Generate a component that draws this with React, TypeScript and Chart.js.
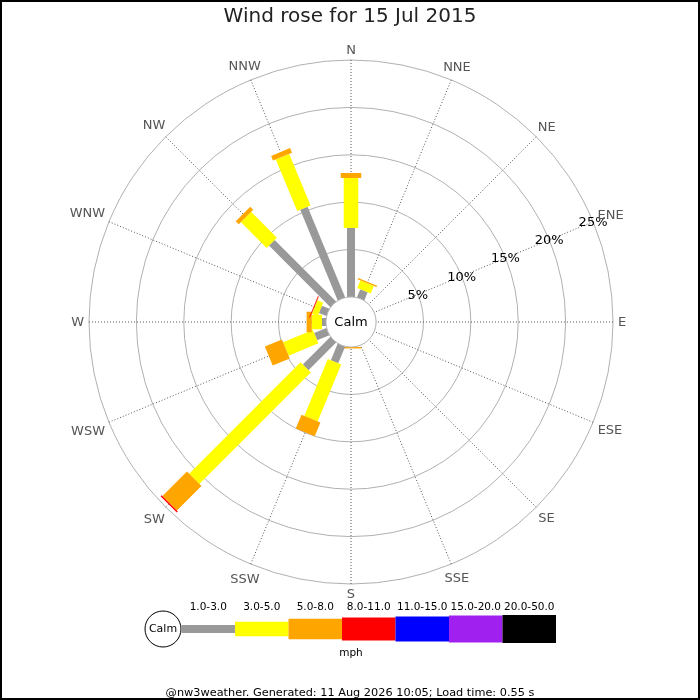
import { useEffect, useRef } from 'react';
import { Chart, registerables } from 'chart.js';

Chart.register(...registerables);

const FONT = "'DejaVu Sans', sans-serif";

const directions = ['N', 'NNE', 'NE', 'ENE', 'E', 'ESE', 'SE', 'SSE', 'S', 'SSW', 'SW', 'WSW', 'W', 'WNW', 'NW', 'NNW'];
const speedBins = ['1.0-3.0', '3.0-5.0', '5.0-8.0', '8.0-11.0', '11.0-15.0', '15.0-20.0', '20.0-50.0'];
const binColors = ['#999999', '#ffff00', '#ffa500', '#ff0000', '#0000ff', '#a020f0', '#000000'];
const binWidths = [8, 14.5, 20.5, 23, 25, 27, 28];

// % of the day per direction, one array per speed bin (mph)
const speed1to3 = [7.28, 0.93, 0, 0, 0, 0, 0, 0, 0, 1.9, 4.13, 1.4, 0.42, 0.85, 9.18, 10.34];
const speed3to5 = [5.27, 0.87, 0, 0, 0, 0, 0, 0, 0, 6.5, 16.62, 3.4, 1.08, 0.65, 3.85, 5.9];
const speed5to8 = [0.53, 0.15, 0, 0, 0, 0, 0, 0, 0.15, 1.57, 3.66, 1.95, 0.54, 0.05, 0.44, 0.53];
const speed8to11 = [0, 0, 0, 0, 0, 0, 0, 0, 0, 0, 0.15, 0, 0, 0.08, 0, 0];
const speed11to15 = [0, 0, 0, 0, 0, 0, 0, 0, 0, 0, 0, 0, 0, 0, 0, 0];
const speed15to20 = [0, 0, 0, 0, 0, 0, 0, 0, 0, 0, 0, 0, 0, 0, 0, 0];
const speed20to50 = [0, 0, 0, 0, 0, 0, 0, 0, 0, 0, 0, 0, 0, 0, 0, 0];
const seriesValues = [speed1to3, speed3to5, speed5to8, speed8to11, speed11to15, speed15to20, speed20to50];

const ringValues = [0, 5, 10, 15, 20, 25];
const ringLabels = ['5%', '10%', '15%', '20%', '25%'];

const titleText = 'Wind rose for 15 Jul 2015';
const footerText = '@nw3weather. Generated: 11 Aug 2026 10:05; Load time: 0.55 s';

const roseDecor = {
  id: 'roseDecor',
  afterDatasetsDraw(chart: any) {
    const scale = chart.scales.r;
    const ctx = chart.ctx;
    ctx.save();
    ctx.lineCap = 'butt';

    // stacked bars, one segment per speed bin
    directions.forEach((_, i) => {
      let base = 0;
      chart.data.datasets.forEach((ds: any, b: number) => {
        const v = ds.data[i];
        if (!v) return;
        const p0 = scale.getPointPositionForValue(i, base);
        const p1 = scale.getPointPositionForValue(i, base + v);
        ctx.strokeStyle = binColors[b];
        ctx.lineWidth = binWidths[b];
        ctx.beginPath();
        ctx.moveTo(p0.x, p0.y);
        ctx.lineTo(p1.x, p1.y);
        ctx.stroke();
        base += v;
      });
    });

    // calm circle
    const r0 = scale.getDistanceFromCenterForValue(0);
    ctx.beginPath();
    ctx.arc(scale.xCenter, scale.yCenter, r0, 0, Math.PI * 2);
    ctx.fillStyle = '#ffffff';
    ctx.fill();
    ctx.lineWidth = 1;
    ctx.strokeStyle = '#bbbbbb';
    ctx.stroke();
    ctx.fillStyle = '#000000';
    ctx.font = `13px ${FONT}`;
    ctx.textAlign = 'center';
    ctx.textBaseline = 'middle';
    ctx.fillText('Calm', scale.xCenter, scale.yCenter + 1);

    // ring labels along the ENE spoke
    ringLabels.forEach((t, k) => {
      const p = scale.getPointPositionForValue(3, ringValues[k + 1]);
      ctx.fillText(t, p.x, p.y + 1);
    });

    // direction labels
    const outer = scale.getDistanceFromCenterForValue(25);
    ctx.fillStyle = '#555555';
    directions.forEach((d, i) => {
      const a = (i / directions.length) * Math.PI * 2;
      const w = ctx.measureText(d).width;
      const dist = outer + 5 + Math.abs(Math.sin(a)) * w / 2 + Math.abs(Math.cos(a)) * 5;
      const p = scale.getPointPosition(i, dist);
      ctx.fillText(d, p.x, p.y + 1);
    });
    ctx.restore();
  },
  afterDraw(chart: any) {
    const ctx = chart.ctx;
    ctx.save();
    // legend
    const cy = 629;
    ctx.beginPath();
    ctx.arc(163, cy, 18, 0, Math.PI * 2);
    ctx.fillStyle = '#ffffff';
    ctx.fill();
    ctx.lineWidth = 1;
    ctx.strokeStyle = '#000000';
    ctx.stroke();
    ctx.fillStyle = '#000000';
    ctx.textAlign = 'center';
    ctx.textBaseline = 'middle';
    ctx.font = `11px ${FONT}`;
    ctx.fillText('Calm', 163, cy);
    const x0 = 181.5;
    const segW = 53.5;
    speedBins.forEach((lab, b) => {
      const h = binWidths[b];
      ctx.fillStyle = binColors[b];
      ctx.fillRect(x0 + b * segW, cy - h / 2, segW, h);
      ctx.fillStyle = '#000000';
      ctx.font = `10.5px ${FONT}`;
      ctx.fillText(lab, x0 + b * segW + segW / 2, 607);
    });
    ctx.fillText('mph', 351, 653);
    // frame
    ctx.lineWidth = 2;
    ctx.strokeStyle = '#000000';
    ctx.strokeRect(1, 1, 698, 698);
    ctx.restore();
  },
};

export default function App() {
  const canvasRef = useRef<HTMLCanvasElement>(null);
  const chartRef = useRef<Chart | null>(null);

  useEffect(() => {
    if (!canvasRef.current) return;
    if (chartRef.current) chartRef.current.destroy();

    chartRef.current = new Chart(canvasRef.current, {
      type: 'radar',
      data: {
        labels: directions,
        datasets: speedBins.map((bin, b) => ({
          label: bin,
          data: seriesValues[b],
          backgroundColor: binColors[b],
          borderColor: binColors[b],
          borderWidth: 0,
          pointRadius: 0,
          showLine: false,
          fill: false,
        })),
      },
      options: {
        responsive: false,
        animation: false,
        layout: { padding: 0 },
        scales: {
          r: {
            min: -2.64,
            max: 25,
            startAngle: 0,
            afterBuildTicks: (scale: any) => {
              scale.ticks = ringValues.map((v) => ({ value: v }));
            },
            afterFit: (scale: any) => {
              scale.xCenter = 351;
              scale.yCenter = 322;
              scale.drawingArea = 262;
            },
            ticks: { display: false },
            pointLabels: { display: false },
            grid: { circular: true, color: '#b0b0b0', lineWidth: 1 },
            angleLines: { display: true, color: '#555555', lineWidth: 1, borderDash: [1, 2] },
          },
        },
        plugins: {
          legend: { display: false },
          tooltip: { enabled: false },
          title: {
            display: true,
            text: titleText,
            color: '#222222',
            font: { family: FONT, size: 20, weight: 'normal' },
            padding: { top: 5, bottom: 5 },
          },
          subtitle: {
            display: true,
            position: 'bottom',
            text: footerText,
            color: '#000000',
            font: { family: FONT, size: 11.3, weight: 'normal' },
            padding: { top: 0, bottom: 0 },
          },
        },
      } as any,
      plugins: [roseDecor],
    });

    return () => {
      if (chartRef.current) {
        chartRef.current.destroy();
        chartRef.current = null;
      }
    };
  }, []);

  return (
    <div style={{ position: 'absolute', left: 0, top: 0, width: 700, height: 700, background: '#ffffff' }}>
      <canvas ref={canvasRef} width={700} height={700} />
    </div>
  );
}
